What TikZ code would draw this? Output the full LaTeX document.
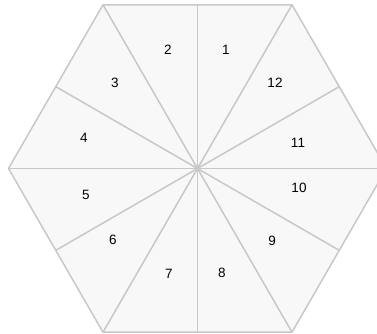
\documentclass[tikz,border=0pt]{standalone}
\usepackage{fontspec}
\setmainfont{Liberation Sans}
\usetikzlibrary{calc}
\definecolor{segfill}{HTML}{F8F8F8}
\definecolor{segline}{HTML}{C8C8C8}
\begin{document}
\begin{tikzpicture}[x=1pt,y=-1pt,
  seg/.style={draw=segline,line width=1.5pt},
  hexfill/.style={fill=segfill,draw=segline,line width=1.5pt,line join=miter},
  lbl/.style={font=\fontsize{13.5}{15}\selectfont,text=black,inner sep=0pt}]
\useasboundingbox (0,0) rectangle (377,334);
\clip (0,0) rectangle (377,334);
\coordinate (C) at (197.5,168.5);
% vertices
\coordinate (v0) at (386.5,168.5);
\coordinate (v1) at (292,4.8);
\coordinate (v2) at (103,4.8);
\coordinate (v3) at (8.5,168.5);
\coordinate (v4) at (103,332.2);
\coordinate (v5) at (292,332.2);
% edge midpoints
\coordinate (m01) at ($ (v0)!0.5!(v1) $);
\coordinate (m12) at ($ (v1)!0.5!(v2) $);
\coordinate (m23) at ($ (v2)!0.5!(v3) $);
\coordinate (m34) at ($ (v3)!0.5!(v4) $);
\coordinate (m45) at ($ (v4)!0.5!(v5) $);
\coordinate (m50) at ($ (v5)!0.5!(v0) $);
\path[hexfill] (v0) -- (v1) -- (v2) -- (v3) -- (v4) -- (v5) -- cycle;
\foreach \p in {v0,v1,v2,v3,v4,v5,m01,m12,m23,m34,m45,m50}
  \draw[seg] (C) -- (\p);
\node[lbl] (l1) at (226,50) {1};
\node[lbl] (l2) at (168,50) {2};
\node[lbl] (l3) at (115,83) {3};
\node[lbl] (l4) at (84,138) {4};
\node[lbl] (l5) at (86,195) {5};
\node[lbl] (l6) at (113,240) {6};
\node[lbl] (l7) at (169,274) {7};
\node[lbl] (l8) at (222,273) {8};
\node[lbl] (l9) at (272,241) {9};
\node[lbl] (l10) at (299,188) {10};
\node[lbl] (l11) at (298,143) {11};
\node[lbl] (l12) at (275,83) {12};
\end{tikzpicture}
\end{document}
